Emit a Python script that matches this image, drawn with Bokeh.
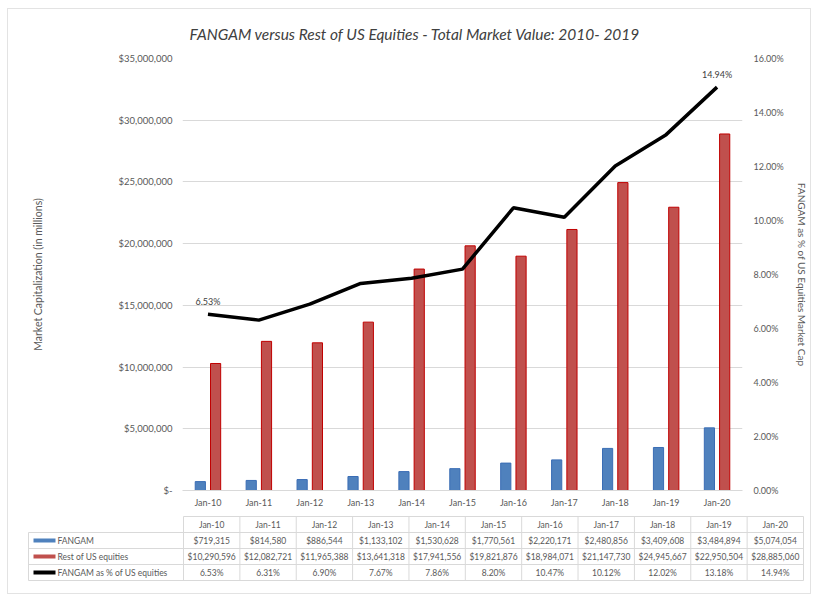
from bokeh.plotting import figure
from bokeh.models import (Range1d, LinearAxis, FactorRange, FixedTicker,
                          CustomJSTickFormatter, ColumnDataSource)
from bokeh.transform import dodge
from bokeh.layouts import column
from bokeh.core.properties import value
from bokeh.embed import file_html
from bokeh.resources import INLINE

# ---------------- data ----------------
categories = ["Jan-10", "Jan-11", "Jan-12", "Jan-13", "Jan-14", "Jan-15",
              "Jan-16", "Jan-17", "Jan-18", "Jan-19", "Jan-20"]
fangam = [719315, 814580, 886544, 1133102, 1530628, 1770561,
          2220171, 2480856, 3409608, 3484894, 5074054]
rest_us = [10290596, 12082721, 11965388, 13641318, 17941556, 19821876,
           18984071, 21147730, 24945667, 22950504, 28885060]
fangam_pct = [6.53, 6.31, 6.90, 7.67, 7.86, 8.20, 10.47, 10.12, 12.02, 13.18, 14.94]
series_names = ["FANGAM", "Rest of US equities", "FANGAM as % of US equities"]
left_ticks = [0, 5000000, 10000000, 15000000, 20000000, 25000000, 30000000, 35000000]
right_ticks = [0, 2, 4, 6, 8, 10, 12, 14, 16]
title_text = "FANGAM versus Rest of US Equities - Total Market Value: 2010- 2019"
left_title = "Market Capitalization (in millions)"
right_title = "FANGAM as % of US Equities Market Cap"

FONT = "Lato"
GREY = "#595959"
BLUE, BLUE_EDGE = "#4f81bd", "#3a6db5"
RED, RED_EDGE = "#c0504d", "#c00000"

# ---------------- main chart ----------------
p = figure(x_range=FactorRange(*categories), y_range=Range1d(0, 35000000),
           frame_width=560, frame_height=432, output_backend="svg", toolbar_location=None,
           min_border_left=174, min_border_right=60, min_border_top=49,
           min_border_bottom=20)
p.frame_align = False
p.outline_line_color = None
p.xgrid.grid_line_color = None
p.ygrid.grid_line_color = "#d9d9d9"
p.ygrid.ticker = FixedTicker(ticks=left_ticks)

p.title.text = title_text
p.title.align = "left"
p.title.vertical_align = "top"
p.title.offset = 7
p.title.standoff = 28
p.title.text_font = FONT
p.title.text_font_size = "15.5px"
p.title.text_font_style = "italic"
p.title.text_color = "#404040"

ya = p.yaxis[0]
ya.ticker = FixedTicker(ticks=left_ticks)
ya.formatter = CustomJSTickFormatter(code="""
    return tick == 0 ? '$-' : '$' + Math.round(tick).toLocaleString('en-US');
""")
ya.axis_line_color = None
ya.major_tick_line_color = None
ya.major_tick_out = 0
ya.minor_tick_line_color = None
ya.minor_tick_out = 0
ya.major_label_text_font = FONT
ya.major_label_text_font_size = "9.5px"
ya.major_label_text_color = GREY
ya.major_label_standoff = 10
ya.axis_label = left_title
ya.axis_label_text_font = FONT
ya.axis_label_text_font_size = "10.5px"
ya.axis_label_text_font_style = "normal"
ya.axis_label_text_color = GREY
ya.axis_label_standoff = 72

xa = p.xaxis[0]
xa.axis_line_color = "#d9d9d9"
xa.major_tick_line_color = None
xa.major_tick_out = 0
xa.minor_tick_line_color = None
xa.minor_tick_out = 0
xa.major_label_text_font = FONT
xa.major_label_text_font_size = "9px"
xa.major_label_text_color = GREY
xa.major_label_standoff = 6

p.extra_y_ranges = {"pct": Range1d(0, 16)}
ra = LinearAxis(y_range_name="pct", ticker=FixedTicker(ticks=right_ticks),
                formatter=CustomJSTickFormatter(code="return tick.toFixed(2) + '%';"))
ra.axis_line_color = None
ra.major_tick_line_color = None
ra.major_tick_out = 0
ra.minor_tick_line_color = None
ra.minor_tick_out = 0
ra.major_label_text_font = FONT
ra.major_label_text_font_size = "9px"
ra.major_label_text_color = GREY
ra.major_label_standoff = 11
ra.axis_label = right_title
ra.axis_label_text_font = FONT
ra.axis_label_text_font_size = "10px"
ra.axis_label_text_font_style = "normal"
ra.axis_label_text_color = GREY
ra.axis_label_standoff = 9
p.add_layout(ra, "right")

src = ColumnDataSource(dict(cat=categories, fangam=fangam, rest=rest_us, pct=fangam_pct))
p.vbar(x=dodge("cat", -0.15, range=p.x_range), top="fangam", width=0.2, source=src,
       fill_color=BLUE, line_color=BLUE_EDGE, line_width=1)
p.vbar(x=dodge("cat", 0.15, range=p.x_range), top="rest", width=0.2, source=src,
       fill_color=RED, line_color=RED_EDGE, line_width=1)
p.line(x="cat", y="pct", source=src, y_range_name="pct", line_color="black", line_width=3.5)

lab = ColumnDataSource(dict(cat=[categories[0], categories[-1]],
                            pct=[fangam_pct[0], fangam_pct[-1]],
                            txt=[f"{fangam_pct[0]:.2f}%", f"{fangam_pct[-1]:.2f}%"]))
p.text(x="cat", y="pct", text="txt", source=lab, y_range_name="pct", y_offset=-7,
       text_align="center", text_baseline="bottom", text_font=value(FONT),
       text_font_size="9px", text_color="#404040")

# ---------------- data table ----------------
t = figure(x_range=Range1d(8, 808), y_range=Range1d(595, 512), width=800, height=83,
           output_backend="svg", toolbar_location=None, min_border=0)
t.frame_align = False
t.axis.visible = False
t.grid.grid_line_color = None
t.outline_line_color = None

n = len(categories)
label_left, data_left, data_right = 28, 183, 803
col_w = (data_right - data_left) / n
rows = [518, 534, 550, 566, 582]
line_c = "#d9d9d9"

hx0 = [data_left] + [label_left] * 4
hx1 = [data_right] * 5
t.segment(x0=hx0, y0=rows, x1=hx1, y1=rows, line_color=line_c, line_width=1)
vx = [label_left] + [data_left + i * col_w for i in range(n + 1)]
vy0 = [rows[1]] + [rows[0]] * (n + 1)
vy1 = [rows[-1]] * (n + 2)
t.segment(x0=vx, y0=vy0, x1=vx, y1=vy1, line_color=line_c, line_width=1)

centers = [data_left + (i + 0.5) * col_w for i in range(n)]
row_mid = [(rows[i] + rows[i + 1]) / 2 for i in range(4)]
cell_txt = (categories
            + [f"${v:,}" for v in fangam]
            + [f"${v:,}" for v in rest_us]
            + [f"{v:.2f}%" for v in fangam_pct])
cell_x = centers * 4
cell_y = [row_mid[r] for r in range(4) for _ in range(n)]
t.text(x=cell_x, y=cell_y, text=cell_txt, text_align="center", text_baseline="middle",
       text_font=value(FONT), text_font_size="8.5px", text_color=GREY)

t.segment(x0=[33] * 3, y0=row_mid[1:], x1=[55] * 3, y1=row_mid[1:],
          line_color=[BLUE, RED, "black"], line_width=[4, 4, 4])
t.text(x=[57] * 3, y=row_mid[1:], text=series_names, text_align="left",
       text_baseline="middle", text_font=value(FONT), text_font_size="8.5px",
       text_color=GREY)

layout = column(p, t, styles={"margin-left": "7px", "margin-top": "8px",
                              "border": "1px solid #e3e3e3"})
open("out.html", "w").write(file_html(layout, INLINE))
